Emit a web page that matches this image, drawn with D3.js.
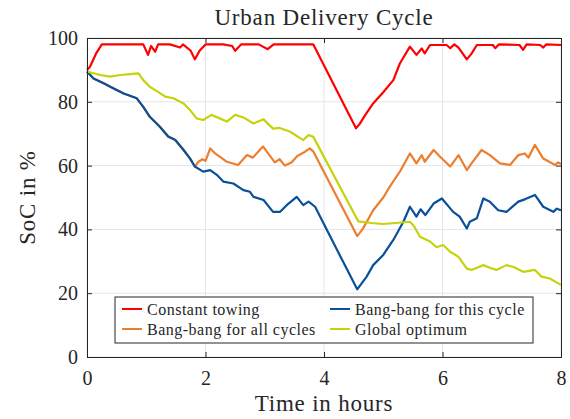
<!DOCTYPE html>
<html>
<head>
<meta charset="utf-8">
<script src="https://cdn.jsdelivr.net/npm/d3@7"></script>
<style>
  body { margin: 0; background: #fff; }
  text { font-family: "Liberation Serif", "DejaVu Serif", serif; fill: #262626; }
</style>
</head>
<body>
<div id="chart"></div>
<script>
// SoC readings, [hours, percent]
var constant_towing = [[0,90],[0.05,91],[0.15,95],[0.25,98],[0.5,98],[0.75,98],[0.95,98],[1.03,94.7],[1.08,97.5],[1.15,95.7],[1.2,98],[1.4,98],[1.57,97],[1.62,98],[1.75,96],[1.82,93.3],[1.9,96],[2.0,98],[2.3,98],[2.45,97.5],[2.5,96],[2.6,98],[2.9,98],[3.05,96.5],[3.15,98],[3.5,98],[3.82,98],[4.54,71.7],[4.6,73],[4.7,76],[4.83,79.5],[5.0,83],[5.17,86.8],[5.28,92],[5.45,97.3],[5.56,94.7],[5.65,96.7],[5.7,95.2],[5.79,97.8],[6.07,97.8],[6.13,96.8],[6.2,98],[6.27,97],[6.41,93.3],[6.49,95.1],[6.58,97.8],[6.85,97.8],[6.89,96.8],[6.95,98],[7.3,97.8],[7.36,96.3],[7.42,98],[7.65,97.8],[7.7,97],[7.75,98],[8,97.8]];

var bang_all = [[0,89.5],[0.11,87.3],[0.28,85.8],[0.45,84.2],[0.62,82.6],[0.84,81.1],[0.95,78.4],[1.06,75.3],[1.23,72.2],[1.37,69.1],[1.49,68],[1.63,64.9],[1.74,62.2],[1.82,59.7],[1.88,61.2],[1.95,62],[2.0,61.5],[2.08,65.4],[2.15,64],[2.24,62.8],[2.36,61.2],[2.55,60.2],[2.7,63.3],[2.8,62.5],[2.97,66],[3.05,64],[3.17,61],[3.25,62],[3.34,60],[3.45,61],[3.55,63],[3.65,64],[3.76,65.4],[3.82,64.4],[4.56,37.9],[4.65,40],[4.83,46],[5.0,50],[5.11,53.4],[5.28,58.1],[5.45,63.8],[5.56,60.7],[5.65,63.3],[5.7,61.2],[5.85,64.9],[5.96,62.8],[6.13,59.7],[6.27,63.3],[6.41,58.6],[6.49,60.7],[6.66,64.9],[6.8,63.3],[6.97,60.7],[7.14,60.2],[7.28,63.3],[7.39,63.8],[7.45,62.5],[7.56,66.5],[7.7,62.2],[7.9,60.2],[7.95,61],[8,60.5]];

var bang_this = [[0,89.5],[0.11,87.3],[0.28,85.8],[0.45,84.2],[0.62,82.6],[0.84,81.1],[0.95,78.4],[1.06,75.3],[1.23,72.2],[1.37,69.1],[1.49,68],[1.63,64.9],[1.74,62.2],[1.82,59.7],[1.96,58.1],[2.08,58.6],[2.19,57.1],[2.3,55],[2.47,54.4],[2.64,52.3],[2.75,51.8],[2.81,50.2],[2.98,49.2],[3.14,45.5],[3.26,45.5],[3.37,47.6],[3.54,50.2],[3.65,47.6],[3.74,48.7],[3.85,47.1],[4.56,21.2],[4.72,25.2],[4.83,28.8],[5.0,32],[5.17,36.7],[5.34,42.4],[5.45,47.1],[5.56,44],[5.63,46.3],[5.71,44.5],[5.85,48.1],[5.99,49.7],[6.18,45.5],[6.29,44],[6.41,40.3],[6.46,42.4],[6.58,43.5],[6.69,49.7],[6.8,48.7],[6.94,46],[7.08,45.5],[7.28,48.7],[7.4,49.5],[7.56,50.8],[7.7,47.1],[7.87,45.5],[7.93,46.5],[8,46]];

var global_opt = [[0,89.5],[0.22,88.4],[0.39,87.9],[0.56,88.4],[0.73,88.7],[0.87,88.9],[0.95,86.8],[1.06,84.7],[1.2,83.1],[1.32,81.6],[1.46,81.1],[1.63,79.5],[1.74,77.4],[1.85,74.8],[1.96,74.3],[2.1,75.9],[2.24,74.8],[2.36,73.8],[2.5,75.9],[2.64,75.1],[2.81,73.2],[2.98,74.5],[3.14,71.6],[3.25,71.8],[3.43,70.6],[3.65,68],[3.74,69.6],[3.82,69],[4.58,42.5],[4.8,42],[5.0,41.7],[5.2,42],[5.45,42.4],[5.52,41],[5.62,37.7],[5.79,36.2],[5.9,34.4],[6.01,35.1],[6.13,33],[6.27,31.4],[6.41,27.7],[6.49,27.3],[6.69,28.8],[6.8,28],[6.91,27.3],[7.08,28.8],[7.2,28.2],[7.36,26.7],[7.56,27.3],[7.67,25.2],[7.81,24.6],[8,22.6]];

var series_names = ["Constant towing", "Bang-bang for all cycles", "Bang-bang for this cycle", "Global optimum"];
var series_colors = ["#ff0000", "#ec7f2f", "#0a4f9b", "#c5d20c"];
var x_ticks = [0, 2, 4, 6, 8];
var y_ticks = [0, 20, 40, 60, 80, 100];

var width = 570, height = 419;
var margin = {top: 38, right: 9, bottom: 62, left: 87};
var w = width - margin.left - margin.right;
var h = height - margin.top - margin.bottom;

var svg = d3.select("#chart").append("svg")
	.attr("width", width)
	.attr("height", height);

var g = svg.append("g")
	.attr("transform", "translate(" + margin.left + "," + margin.top + ")");

var x = d3.scaleLinear().domain([0, 8]).range([0, w]);
var y = d3.scaleLinear().domain([0, 100]).range([h, 0]);

// grid
g.selectAll(".gx").data(x_ticks).enter().append("line")
	.attr("x1", function(d){ return x(d); })
	.attr("x2", function(d){ return x(d); })
	.attr("y1", 0).attr("y2", h)
	.attr("stroke", "#e6e6e6").attr("stroke-width", 1);
g.selectAll(".gy").data(y_ticks).enter().append("line")
	.attr("y1", function(d){ return y(d); })
	.attr("y2", function(d){ return y(d); })
	.attr("x1", 0).attr("x2", w)
	.attr("stroke", "#e6e6e6").attr("stroke-width", 1);

// series
var all_series = [constant_towing, bang_all, bang_this, global_opt];
var line = d3.line()
	.x(function(d){ return x(d[0]); })
	.y(function(d){ return y(d[1]); });

g.selectAll(".series").data(all_series).enter().append("path")
	.attr("d", line)
	.attr("fill", "none")
	.attr("stroke", function(d, i){ return series_colors[i]; })
	.attr("stroke-width", 2.2)
	.attr("stroke-linejoin", "round");

// axes (ticks inward, box all round)
var xAxis = g.append("g").attr("transform", "translate(0," + h + ")")
	.call(d3.axisBottom(x).tickValues(x_ticks).tickSize(-5).tickPadding(14).tickFormat(d3.format("d")));
var yAxis = g.append("g")
	.call(d3.axisLeft(y).tickValues(y_ticks).tickSize(-5).tickPadding(9).tickFormat(d3.format("d")));
g.append("g").attr("transform", "translate(" + w + ",0)")
	.call(d3.axisRight(y).tickValues(y_ticks).tickSize(-5).tickFormat(""));
g.append("g")
	.call(d3.axisTop(x).tickValues(x_ticks).tickSize(-5).tickFormat(""));

g.selectAll(".domain").attr("stroke", "#262626").attr("stroke-width", 1);
g.selectAll(".tick line").attr("stroke", "#262626");
g.selectAll(".tick text").style("font-family", "Liberation Serif").style("font-size", "20px").attr("fill", "#262626");

// title + labels
svg.append("text")
	.attr("x", margin.left + w/2).attr("y", 25)
	.attr("text-anchor", "middle")
	.style("font-size", "23px")
	.style("letter-spacing", "0.8px")
	.text("Urban Delivery Cycle");

svg.append("text")
	.attr("x", margin.left + w/2).attr("y", 411)
	.attr("text-anchor", "middle")
	.style("font-size", "23px")
	.style("letter-spacing", "0.8px")
	.text("Time in hours");

svg.append("text")
	.attr("transform", "translate(35," + (margin.top + h/2) + ") rotate(-90)")
	.attr("text-anchor", "middle")
	.style("font-size", "23px")
	.style("letter-spacing", "0.8px")
	.text("SoC in %");

// legend
var legend = svg.append("g").attr("transform", "translate(115,297)");
legend.append("rect")
	.attr("width", 418).attr("height", 46)
	.attr("fill", "#fff").attr("stroke", "#262626").attr("stroke-width", 1);

var legend_pos = [[7, 12], [7, 32], [215, 12], [215, 32]];
var items = legend.selectAll(".item").data(series_names).enter().append("g")
	.attr("transform", function(d, i){ return "translate(" + legend_pos[i][0] + "," + legend_pos[i][1] + ")"; });
items.append("line")
	.attr("x1", 0).attr("x2", 20)
	.attr("stroke", function(d, i){ return series_colors[i]; })
	.attr("stroke-width", 2);
items.append("text")
	.attr("x", 25).attr("dy", "0.35em")
	.style("font-size", "16px")
	.style("letter-spacing", "0.5px")
	.text(function(d){ return d; });
</script>
</body>
</html>
